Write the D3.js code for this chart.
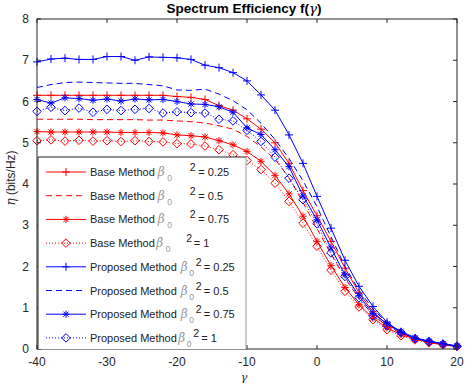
<!DOCTYPE html>
<html><head><meta charset="utf-8">
<script src="https://cdn.jsdelivr.net/npm/d3@7"></script>
<style>body{margin:0;background:#fff;}svg{display:block;font-family:"Liberation Sans",Arial,sans-serif;}</style>
</head><body>
<svg id="c" width="475" height="384"></svg>
<script>
const xVals = [-40,-38,-36,-34,-32,-30,-28,-26,-24,-22,-20,-18,-16,-14,-12,-10,-8,-6,-4,-2,0,2,4,6,8,10,12,14,16,18,20];
const base025 = [6.15,6.15,6.15,6.15,6.15,6.15,6.15,6.15,6.15,6.15,6.12,6.10,6.05,5.90,5.79,5.58,5.33,5.00,4.50,3.84,3.23,2.61,1.96,1.36,0.90,0.60,0.40,0.25,0.17,0.11,0.07];
const base05 = [5.57,5.57,5.57,5.57,5.56,5.56,5.56,5.56,5.55,5.55,5.53,5.51,5.48,5.41,5.33,5.15,4.90,4.60,4.15,3.55,2.92,2.30,1.72,1.22,0.83,0.56,0.38,0.25,0.17,0.11,0.07];
const base075 = [5.27,5.26,5.26,5.26,5.26,5.26,5.25,5.25,5.25,5.24,5.19,5.17,5.14,5.05,4.95,4.79,4.55,4.21,3.76,3.22,2.61,2.02,1.49,1.07,0.75,0.51,0.35,0.24,0.16,0.10,0.06];
const base1 = [5.05,5.07,5.04,5.06,5.04,5.05,5.03,5.05,5.03,5.02,4.98,4.97,4.92,4.83,4.71,4.57,4.35,4.02,3.58,3.05,2.49,1.91,1.40,1.02,0.71,0.47,0.32,0.22,0.15,0.10,0.06];
const prop025 = [6.96,7.03,7.05,7.02,7.02,7.09,7.09,7.00,7.08,7.07,7.06,7.02,6.88,6.82,6.70,6.50,6.16,5.79,5.19,4.50,3.70,2.93,2.15,1.52,1.03,0.65,0.40,0.26,0.19,0.13,0.07];
const prop05 = [6.34,6.41,6.46,6.47,6.46,6.45,6.44,6.44,6.41,6.38,6.28,6.27,6.30,6.18,6.02,5.80,5.47,5.08,4.62,4.08,3.45,2.72,2.00,1.42,0.97,0.63,0.40,0.26,0.18,0.12,0.07];
const prop075 = [6.05,5.96,6.09,6.07,6.03,6.06,6.01,6.06,6.04,6.05,6.00,5.94,5.93,5.87,5.74,5.36,5.20,4.83,4.42,3.71,3.13,2.45,1.80,1.29,0.86,0.61,0.43,0.27,0.19,0.13,0.07];
const prop1 = [5.76,5.86,5.78,5.84,5.74,5.81,5.78,5.81,5.83,5.72,5.75,5.73,5.72,5.57,5.53,5.30,5.03,4.65,4.14,3.62,3.04,2.33,1.76,1.24,0.80,0.57,0.40,0.25,0.18,0.12,0.07];
const xTicks = [-40,-30,-20,-10,0,10,20];
const yTicks = [0,1,2,3,4,5,6,7,8];
const seriesNames = ["Base Method","Base Method","Base Method","Base Method","Proposed Method","Proposed Method","Proposed Method","Proposed Method"];
const betaVals = ["0.25","0.5","0.75","1","0.25","0.5","0.75","1"];
const titleText = "Spectrum Efficiency f(";

const series = [
  {y:base025,color:"#ff0000",dash:null,marker:"plus"},
  {y:base05,color:"#ff0000",dash:"6,4",marker:null},
  {y:base075,color:"#ff0000",dash:null,marker:"star"},
  {y:base1,color:"#ff0000",dash:"1,2",marker:"diamond"},
  {y:prop025,color:"#0000ff",dash:null,marker:"plus"},
  {y:prop05,color:"#0000ff",dash:"6,4",marker:null},
  {y:prop075,color:"#0000ff",dash:null,marker:"star"},
  {y:prop1,color:"#0000ff",dash:"1,2",marker:"diamond"}
];

const svg = d3.select("#c");
const L=37,R=457,T=19,B=349;
const x = d3.scaleLinear().domain([-40,20]).range([L,R]);
const y = d3.scaleLinear().domain([0,8]).range([B,T]);
const axCol="#262626";

const plot = svg.append("g");
const line = d3.line().x((d,i)=>x(xVals[i])).y(d=>y(d));

function drawMarker(g, type, cx, cy, color){
  if(type==="plus"){
    g.append("path").attr("d",`M${cx-4},${cy}H${cx+4}M${cx},${cy-4}V${cy+4}`).attr("stroke",color).attr("stroke-width",1).attr("fill","none");
  } else if(type==="star"){
    const r=3.6, k=r*0.72;
    g.append("path").attr("d",`M${cx-r},${cy}H${cx+r}M${cx},${cy-r}V${cy+r}M${cx-k},${cy-k}L${cx+k},${cy+k}M${cx-k},${cy+k}L${cx+k},${cy-k}`).attr("stroke",color).attr("stroke-width",1).attr("fill","none");
  } else if(type==="diamond"){
    const r=4.3;
    g.append("path").attr("d",`M${cx},${cy-r}L${cx+r},${cy}L${cx},${cy+r}L${cx-r},${cy}Z`).attr("stroke",color).attr("stroke-width",1).attr("fill","none");
  }
}

series.forEach(s=>{
  plot.append("path").datum(s.y).attr("d",line).attr("fill","none").attr("stroke",s.color).attr("stroke-width",1)
    .attr("stroke-dasharray",s.dash);
  if(s.marker){
    s.y.forEach((v,i)=>drawMarker(plot,s.marker,x(xVals[i]),y(v),s.color));
  }
});

// axes box
const ax = svg.append("g");
ax.append("rect").attr("x",L).attr("y",T).attr("width",R-L).attr("height",B-T).attr("fill","none").attr("stroke",axCol).attr("stroke-width",1);
xTicks.forEach(t=>{
  ax.append("line").attr("x1",x(t)).attr("x2",x(t)).attr("y1",B).attr("y2",B-4).attr("stroke",axCol);
  ax.append("line").attr("x1",x(t)).attr("x2",x(t)).attr("y1",T).attr("y2",T+4).attr("stroke",axCol);
  ax.append("text").attr("x",x(t)).attr("y",B+17).attr("text-anchor","middle").attr("font-size",12).attr("fill",axCol).text(t);
});
yTicks.forEach(t=>{
  ax.append("line").attr("x1",L).attr("x2",L+4).attr("y1",y(t)).attr("y2",y(t)).attr("stroke",axCol);
  ax.append("line").attr("x1",R).attr("x2",R-4).attr("y1",y(t)).attr("y2",y(t)).attr("stroke",axCol);
  ax.append("text").attr("x",L-8).attr("y",y(t)+4).attr("text-anchor","end").attr("font-size",12).attr("fill",axCol).text(t);
});

// title
const title = svg.append("text").attr("x",244).attr("y",13).attr("text-anchor","middle").attr("font-size",13.5).attr("font-weight","bold").attr("fill","#000");
title.append("tspan").text(titleText);
title.append("tspan").attr("font-style","italic").attr("font-weight","normal").attr("font-family","DejaVu Serif, serif").text("γ");
title.append("tspan").text(")");

// y label
const yl = svg.append("text").attr("transform","translate(15,178) rotate(-90)").attr("text-anchor","middle").attr("font-size",12).attr("fill",axCol);
yl.append("tspan").attr("font-style","italic").attr("font-family","DejaVu Serif, serif").text("η");
yl.append("tspan").text(" (bits/Hz)");

// x label
svg.append("text").attr("x",244).attr("y",381).attr("text-anchor","middle").attr("font-size",11).attr("font-style","italic").attr("font-family","DejaVu Serif, serif").attr("fill",axCol).text("γ");

// legend
const lg = svg.append("g");
const LX0=38, LX1=246, LY0=157, LY1=349;
lg.append("rect").attr("x",LX0).attr("y",LY0).attr("width",LX1-LX0).attr("height",LY1-LY0).attr("fill","#fff").attr("stroke","none");
lg.append("path").attr("d",`M${LX0},${LY1}V${LY0}H${LX1}`).attr("stroke","#222").attr("fill","none");
lg.append("path").attr("d",`M${LX1},${LY0}V${LY1}`).attr("stroke","#999").attr("fill","none");
const rowY = d3.range(8).map(i=>172+i*23.7);
series.forEach((s,i)=>{
  const yy=rowY[i];
  lg.append("line").attr("x1",46).attr("x2",86).attr("y1",yy).attr("y2",yy).attr("stroke",s.color).attr("stroke-width",1).attr("stroke-dasharray",s.dash);
  if(s.marker) drawMarker(lg,s.marker,66,yy,s.color);
  const isProp = i>=4, tight = (i===3||i===7);
  const nt = lg.append("text").attr("x",90).attr("y",yy+4).attr("font-size",11).attr("fill","#222").text(seriesNames[i]);
  const end = 90 + nt.node().getComputedTextLength();
  const bx = end + (tight ? 1.5 : (isProp ? 4 : 3));
  const off = isProp ? {s:8.5,p:15,e:23} : (tight ? {s:9.5,p:30,e:37.5} : {s:9.5,p:32,e:40.5});
  lg.append("text").attr("x",bx).attr("y",yy+4).attr("font-size",12).attr("font-style","italic").attr("font-family","DejaVu Serif, serif").attr("fill","#999").text("β");
  lg.append("text").attr("x",bx+off.s).attr("y",yy+9).attr("font-size",8.5).attr("fill","#999").text("0");
  lg.append("text").attr("x",bx+off.p).attr("y",yy-1).attr("font-size",10.5).attr("fill","#222").text("2");
  lg.append("text").attr("x",bx+off.e).attr("y",yy+4).attr("font-size",11).attr("fill","#222").text("= "+betaVals[i]);
});
</script>
</body></html>
